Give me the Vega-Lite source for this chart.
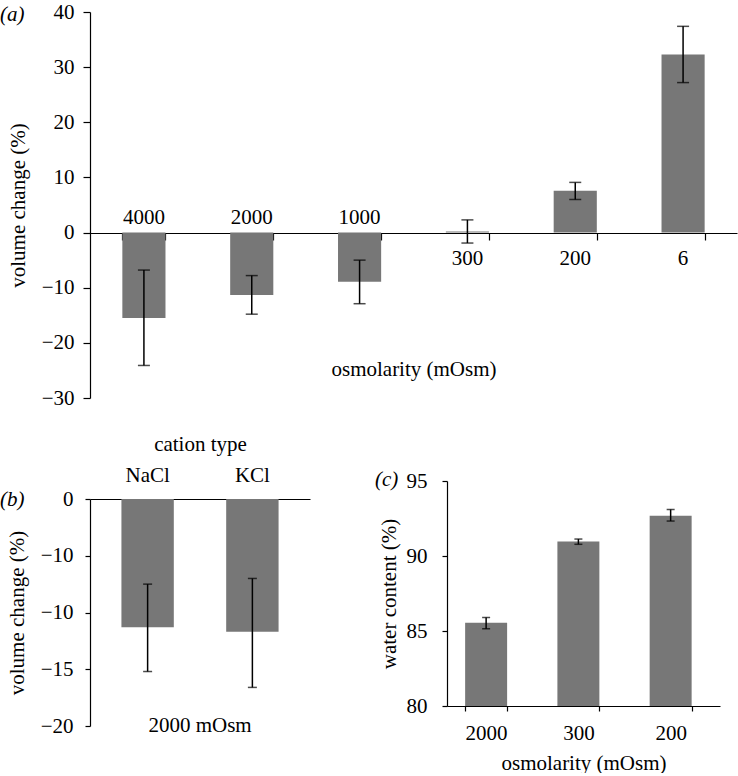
{
  "$schema": "https://vega.github.io/schema/vega-lite/v6.json",
  "padding": {"left": 0, "top": 1, "right": 1, "bottom": 0},
  "config": {
    "font": "Liberation Serif",
    "view": {"stroke": null},
    "axis": {
      "labelFont": "Liberation Serif", "titleFont": "Liberation Serif",
      "labelFontSize": 21, "titleFontSize": 21, "titleFontWeight": "normal",
      "labelColor": "black", "titleColor": "black",
      "domainColor": "black", "tickColor": "black", "domainWidth": 1.2, "tickWidth": 1.2,
      "grid": false
    },
    "title": {"font": "Liberation Serif", "fontSize": 21, "fontWeight": "normal", "color": "black"}
  },
  "spacing": 24,
  "vconcat": [
    {
      "width": 647, "height": 386,
      "title": {"text": "(a)", "anchor": "start", "frame": "group", "dx": -90, "offset": -24, "fontStyle": "italic"},
      "data": {"values": [
        {"osm": "4000", "v": -15.5, "lo": -24.1, "hi": -6.8},
        {"osm": "2000", "v": -11.3, "lo": -14.8, "hi": -7.8},
        {"osm": "1000", "v": -8.9, "lo": -12.9, "hi": -5.0},
        {"osm": "300", "v": 0.2, "lo": -1.9, "hi": 2.3},
        {"osm": "200", "v": 7.6, "lo": 6.0, "hi": 9.1},
        {"osm": "6", "v": 32.3, "lo": 27.2, "hi": 37.4}
      ]},
      "encoding": {
        "x": {"field": "osm", "type": "nominal", "sort": null,
          "scale": {"paddingInner": 0.6, "paddingOuter": 0.3},
          "axis": {"orient": "bottom", "offset": -165, "labels": false, "ticks": true, "tickBand": "extent", "tickSize": 7,
            "title": "osmolarity (mOsm)", "titlePadding": 118}}
      },
      "layer": [
        {"mark": {"type": "bar", "color": "#777777"},
         "encoding": {"y": {"field": "v", "type": "quantitative",
           "scale": {"domain": [-30, 40], "nice": false, "zero": false},
           "axis": {"values": [-30, -20, -10, 0, 10, 20, 30, 40], "title": "volume change (%)", "tickSize": 7, "labelPadding": 9, "titlePadding": 13}},
           "y2": {"datum": 0}}},
        {"mark": {"type": "rule", "color": "black", "strokeWidth": 1.5},
         "encoding": {"y": {"field": "lo", "type": "quantitative"}, "y2": {"field": "hi"}}},
        {"mark": {"type": "tick", "color": "black", "thickness": 1.5, "size": 12},
         "encoding": {"y": {"field": "lo", "type": "quantitative"}}},
        {"mark": {"type": "tick", "color": "black", "thickness": 1.5, "size": 12},
         "encoding": {"y": {"field": "hi", "type": "quantitative"}}},
        {"transform": [{"filter": "datum.v < 0"}],
         "mark": {"type": "text", "dy": -9, "baseline": "alphabetic", "fontSize": 21, "color": "black"},
         "encoding": {"y": {"datum": 0}, "text": {"field": "osm"}}},
        {"transform": [{"filter": "datum.v >= 0"}],
         "mark": {"type": "text", "dy": 32, "baseline": "alphabetic", "fontSize": 21, "color": "black"},
         "encoding": {"y": {"datum": 0}, "text": {"field": "osm"}}}
      ]
    },
    {
      "title": {"text": "(b)", "anchor": "start", "frame": "group", "dx": -90, "offset": -78, "fontStyle": "italic"},
      "spacing": 65,
      "hconcat": [
        {
          "spacing": 0,
          "vconcat": [
            {"data": {"values": []}, "mark": "point", "width": 10, "height": 1},
            {
              "width": 220, "height": 227,
              "title": {"text": "2000 mOsm", "orient": "bottom", "offset": -21},
              "data": {"values": [
                {"cation": "NaCl", "v": -11.3, "lo": -15.2, "hi": -7.5},
                {"cation": "KCl", "v": -11.7, "lo": -16.6, "hi": -7.0}
              ]},
              "encoding": {
                "x": {"field": "cation", "type": "nominal", "sort": null,
                  "scale": {"paddingInner": 0.5, "paddingOuter": 0.3},
                  "axis": {"orient": "top", "ticks": false, "labelAngle": 0, "labelPadding": 14, "title": "cation type", "titlePadding": 10}}
              },
              "layer": [
                {"mark": {"type": "bar", "color": "#777777"},
                 "encoding": {"y": {"field": "v", "type": "quantitative",
                   "scale": {"domain": [-20, 0], "nice": false},
                   "axis": {"values": [-20, -15, -10, -5, 0], "labelExpr": "datum.value == -5 ? '−10' : datum.label", "title": "volume change (%)", "tickSize": 5, "labelPadding": 12, "titlePadding": 13}},
                   "y2": {"datum": 0}}},
                {"mark": {"type": "rule", "color": "black", "strokeWidth": 1.5},
                 "encoding": {"y": {"field": "lo", "type": "quantitative"}, "y2": {"field": "hi"}}},
                {"mark": {"type": "tick", "color": "black", "thickness": 1.5, "size": 9},
                 "encoding": {"y": {"field": "lo", "type": "quantitative"}}},
                {"mark": {"type": "tick", "color": "black", "thickness": 1.5, "size": 9},
                 "encoding": {"y": {"field": "hi", "type": "quantitative"}}}
              ]
            }
          ]
        },
        {
          "spacing": 0,
          "vconcat": [
            {"data": {"values": []}, "mark": "point", "width": 10, "height": 37},
            {
              "width": 273, "height": 225,
              "title": {"text": "(c)", "anchor": "start", "frame": "group", "dx": -72, "offset": -20, "fontStyle": "italic"},
              "data": {"values": [
                {"osm": "2000", "v": 85.55, "lo": 85.15, "hi": 85.9},
                {"osm": "300", "v": 90.97, "lo": 90.78, "hi": 91.13},
                {"osm": "200", "v": 92.68, "lo": 92.33, "hi": 93.1}
              ]},
              "encoding": {
                "x": {"field": "osm", "type": "nominal", "sort": null,
                  "scale": {"paddingInner": 0.545, "paddingOuter": 0.252, "align": 0.39},
                  "axis": {"orient": "bottom", "labelAngle": 0, "tickBand": "extent", "tickSize": 5, "labelPadding": 11, "title": "osmolarity (mOsm)", "titlePadding": 9}}
              },
              "layer": [
                {"mark": {"type": "bar", "color": "#777777"},
                 "encoding": {"y": {"field": "v", "type": "quantitative",
                   "scale": {"domain": [80, 95], "nice": false, "zero": false},
                   "axis": {"values": [80, 85, 90, 95], "title": "water content (%)", "tickSize": 5, "labelPadding": 15, "titlePadding": 7}},
                   "y2": {"datum": 80}}},
                {"mark": {"type": "rule", "color": "black", "strokeWidth": 1.5},
                 "encoding": {"y": {"field": "lo", "type": "quantitative"}, "y2": {"field": "hi"}}},
                {"mark": {"type": "tick", "color": "black", "thickness": 1.5, "size": 8},
                 "encoding": {"y": {"field": "lo", "type": "quantitative"}}},
                {"mark": {"type": "tick", "color": "black", "thickness": 1.5, "size": 8},
                 "encoding": {"y": {"field": "hi", "type": "quantitative"}}}
              ]
            }
          ]
        }
      ]
    }
  ]
}
